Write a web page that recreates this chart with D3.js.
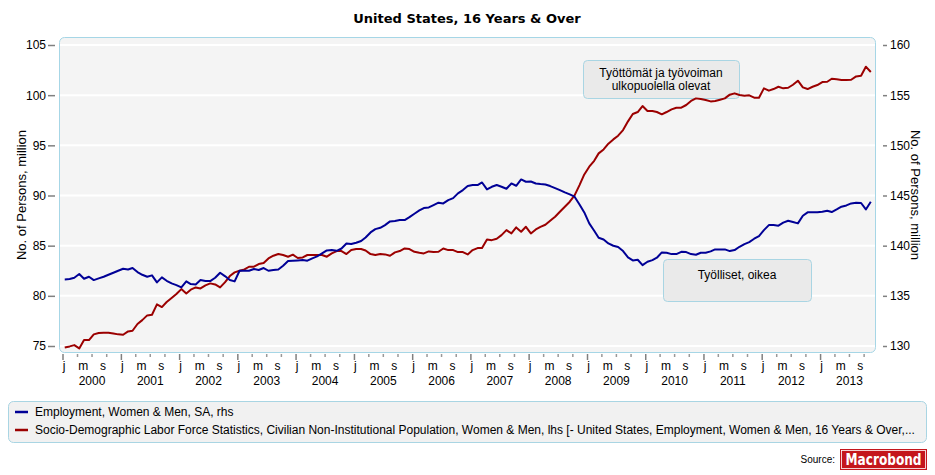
<!DOCTYPE html>
<html><head><meta charset="utf-8">
<script src="https://cdn.jsdelivr.net/npm/d3@7"></script>
<style>
body{margin:0;background:#fff}
svg{display:block}
text{font-family:"Liberation Sans",Arial,sans-serif;fill:#000}
</style>
</head><body>
<svg id="chart" width="935" height="475"></svg>
<script>
const chartTitle = "United States, 16 Years & Over";
const axisTitle = "No. of Persons, million";
const startYear = 2000;
const yearLabels = d3.range(2000, 2014);
const monthLabelText = ["j", "m", "s"]; // Jan, May, Sep
const leftTicks = [75, 80, 85, 90, 95, 100, 105];
const rightTicks = [130, 135, 140, 145, 150, 155, 160];
const seriesNames = [
  "Employment, Women & Men, SA, rhs",
  "Socio-Demographic Labor Force Statistics, Civilian Non-Institutional Population, Women & Men, lhs [- United States, Employment, Women & Men, 16 Years & Over,..."
];
const noteTop = ["Työttömät ja työvoiman", "ulkopuolella olevat"];
const noteBottom = ["Työlliset, oikea"];

// Employment, million (right axis), monthly from Jan 2000
const employment = [
136.64,136.67,136.80,137.17,136.70,136.90,136.57,136.74,136.90,137.10,137.30,137.50,
137.70,137.63,137.77,137.37,137.10,136.90,137.04,136.34,136.84,136.50,136.24,136.07,
135.84,136.44,136.17,136.14,136.57,136.47,136.47,136.80,137.30,136.97,136.57,136.44,
137.50,137.50,137.50,137.67,137.57,137.77,137.50,137.57,137.63,138.00,138.47,138.50,
138.53,138.57,138.50,138.73,138.93,139.23,139.53,139.56,139.49,139.72,140.22,140.16,
140.29,140.46,140.82,141.32,141.65,141.78,142.05,142.42,142.45,142.55,142.55,142.85,
143.18,143.51,143.75,143.81,144.04,144.28,144.21,144.54,144.74,145.21,145.54,145.94,
146.04,146.04,146.30,145.61,145.87,146.04,145.87,145.67,146.20,145.97,146.60,146.37,
146.40,146.20,146.14,146.10,145.94,145.74,145.54,145.31,145.11,144.88,144.11,143.31,
142.22,141.49,140.79,140.62,140.22,139.99,139.86,139.46,138.83,138.53,138.60,138.06,
138.40,138.56,138.80,139.33,139.29,139.16,139.16,139.39,139.36,139.16,139.09,139.29,
139.29,139.43,139.63,139.63,139.63,139.46,139.56,139.89,140.16,140.36,140.69,140.96,
141.55,142.05,142.05,141.99,142.29,142.48,142.35,142.22,142.98,143.32,143.32,143.32,
143.38,143.48,143.35,143.61,143.88,144.01,144.21,144.28,144.25,143.61,144.38];

// Population minus employment, million (left axis)
const notEmployed = [
74.86,74.96,75.09,74.76,75.59,75.59,76.16,76.29,76.32,76.32,76.25,76.16,
76.12,76.45,76.52,77.19,77.58,78.05,78.12,79.15,78.88,79.38,79.78,80.18,
80.67,80.24,80.61,80.84,80.74,81.04,81.24,81.14,80.84,81.34,81.97,82.34,
82.50,82.63,82.90,82.90,83.17,83.27,83.73,84.00,84.17,84.07,83.90,84.10,
83.77,83.83,84.07,84.07,84.07,84.07,83.90,84.23,84.46,84.46,84.16,84.56,
84.66,84.66,84.52,84.16,84.06,84.16,84.13,83.99,84.33,84.46,84.72,84.66,
84.39,84.29,84.23,84.43,84.36,84.39,84.72,84.56,84.56,84.36,84.36,84.13,
84.56,84.76,84.76,85.62,85.55,85.69,86.05,86.55,86.22,86.82,86.39,86.88,
86.22,86.62,86.88,87.08,87.48,87.88,88.38,88.88,89.38,90.01,91.04,92.10,
92.87,93.46,94.20,94.59,95.16,95.59,95.96,96.52,97.39,98.12,98.32,98.92,
98.42,98.42,98.32,98.09,98.32,98.58,98.75,98.75,99.02,99.42,99.68,99.61,
99.51,99.38,99.42,99.55,99.68,100.05,100.18,100.01,99.95,99.98,99.75,99.75,
100.68,100.45,100.61,100.84,100.68,100.74,101.04,101.44,100.78,100.61,100.84,101.01,
101.31,101.34,101.64,101.58,101.51,101.51,101.54,101.87,101.94,102.84,102.31];

const colors = {blue: "#000096", red: "#9b0000"};

const svg = d3.select("#chart");
const box = {x0: 59, x1: 876, y0: 37, y1: 353};

const dateOf = i => new Date(Date.UTC(startYear, i, 15));
const x = d3.scaleUtc()
  .domain([new Date(Date.UTC(2000,0,1)), new Date(Date.UTC(2014,0,1))])
  .range([62.5, 878.3]);
const yL = d3.scaleLinear().domain([75,105]).range([346,45]);
const yR = d3.scaleLinear().domain([130,160]).range([346,45]);

// title
svg.append("text").attr("x", 467).attr("y", 23).attr("text-anchor","middle")
  .style("font-family","'DejaVu Sans',Verdana,sans-serif").style("font-weight","bold")
  .style("font-size","13px").text(chartTitle);

// plot box
svg.append("rect").attr("x", box.x0+0.5).attr("y", box.y0+0.5)
  .attr("width", box.x1-box.x0-1).attr("height", box.y1-box.y0-1)
  .attr("rx", 5).attr("fill","#f4f4f4").attr("stroke","#a6d6e6").attr("stroke-width",1);

svg.append("defs").append("clipPath").attr("id","clip").append("rect")
  .attr("x", box.x0+1).attr("y", box.y0+1).attr("width", box.x1-box.x0-2).attr("height", box.y1-box.y0-2);

// grid
svg.append("g").selectAll("line").data(leftTicks).join("line")
  .attr("x1", box.x0+1).attr("x2", box.x1-1)
  .attr("y1", d=>yL(d)).attr("y2", d=>yL(d))
  .attr("stroke","#ffffff").attr("stroke-width",2);

// left axis
const gL = svg.append("g").attr("transform","translate(55,0)")
  .call(d3.axisLeft(yL).tickValues(leftTicks).tickSize(7).tickPadding(2));
gL.select(".domain").remove();
gL.selectAll("line").attr("stroke","#808080").attr("stroke-width",1.5);
gL.selectAll("text").style("font-size","12px").attr("fill","#000");

// right axis
const gR = svg.append("g").attr("transform","translate(883,0)")
  .call(d3.axisRight(yR).tickValues(rightTicks).tickSize(4).tickPadding(3));
gR.select(".domain").remove();
gR.selectAll("line").attr("stroke","#808080").attr("stroke-width",1.5);
gR.selectAll("text").style("font-size","12px").attr("fill","#000");

// axis titles
svg.append("text").attr("transform","translate(21,195) rotate(-90)")
  .attr("text-anchor","middle").attr("dominant-baseline","central")
  .style("font-size","13px").text(axisTitle);
svg.append("text").attr("transform","translate(915,195) rotate(90)")
  .attr("text-anchor","middle").attr("dominant-baseline","central")
  .style("font-size","13px").text(axisTitle);

// x axis
const allMonths = d3.utcMonth.range(new Date(Date.UTC(2000,0,1)), new Date(Date.UTC(2014,0,1)));
const quarterTicks = allMonths.filter(d => d.getUTCMonth()%3===0 && d.getUTCMonth()!==0 && x(d) < box.x1);
const yearTicks = allMonths.filter(d => d.getUTCMonth()===0);
const labelMonths = allMonths.filter(d => d.getUTCMonth()%4===0);

const gMinor = svg.append("g").attr("transform",`translate(0,${box.y1+1})`)
  .call(d3.axisBottom(x).tickValues(quarterTicks).tickSize(3).tickFormat(""));
gMinor.select(".domain").remove();
gMinor.selectAll("line").attr("stroke","#999").attr("stroke-width",1.5);

const gMajor = svg.append("g").attr("transform",`translate(0,${box.y1+1})`)
  .call(d3.axisBottom(x).tickValues(yearTicks).tickSize(6).tickFormat(""));
gMajor.select(".domain").remove();
gMajor.selectAll("line").attr("stroke","#808080").attr("stroke-width",1.5);

const gMon = svg.append("g").attr("transform","translate(0,361)")
  .call(d3.axisBottom(x).tickValues(labelMonths).tickSize(0).tickPadding(0)
    .tickFormat(d => monthLabelText[d.getUTCMonth()/4]));
gMon.select(".domain").remove();
gMon.selectAll("text").style("font-size","12px").attr("fill","#000").attr("dx","1");

const gYear = svg.append("g").attr("transform","translate(0,376)")
  .call(d3.axisBottom(x).tickValues(yearLabels.map(yv => new Date(Date.UTC(yv,6,1))))
    .tickSize(0).tickPadding(0).tickFormat(d => d.getUTCFullYear()));
gYear.select(".domain").remove();
gYear.selectAll("text").style("font-size","12px").attr("fill","#000");

// annotations (drawn beneath the lines)
function note(x0,y0,w,h,lines,baselines){
  svg.append("rect").attr("x",x0+0.5).attr("y",y0+0.5).attr("width",w).attr("height",h)
    .attr("rx",4).attr("fill","#eaeaea").attr("stroke","#a9d5e3");
  lines.forEach((t,i)=>svg.append("text").attr("x",x0+w/2).attr("y",baselines[i])
    .attr("text-anchor","middle").style("font-size","12px").text(t));
}
note(583,60,156,38,noteTop,[76.5,90]);
note(663,259,148,42,noteBottom,[278.5]);

// lines
const plot = svg.append("g").attr("clip-path","url(#clip)");
const lineR = d3.line().x((d,i)=>x(dateOf(i))).y(d=>yR(d));
const lineL = d3.line().x((d,i)=>x(dateOf(i))).y(d=>yL(d));
plot.append("path").datum(notEmployed).attr("d", lineL)
  .attr("fill","none").attr("stroke",colors.red).attr("stroke-width",2).attr("stroke-linejoin","round");
plot.append("path").datum(employment).attr("d", lineR)
  .attr("fill","none").attr("stroke",colors.blue).attr("stroke-width",2).attr("stroke-linejoin","round");

// legend
svg.append("rect").attr("x",8.5).attr("y",401.5).attr("width",918).attr("height",41)
  .attr("rx",5).attr("fill","#f1f1f1").attr("stroke","#a9d5e3");
const legY = [412, 430];
const legCol = [colors.blue, colors.red];
seriesNames.forEach((s,i)=>{
  svg.append("line").attr("x1",15).attr("x2",28).attr("y1",legY[i]).attr("y2",legY[i])
    .attr("stroke",legCol[i]).attr("stroke-width",2.5);
  svg.append("text").attr("x",35).attr("y",legY[i]).attr("dominant-baseline","central")
    .style("font-size","12px").text(s);
});

// source
svg.append("text").attr("x",835).attr("y",463).attr("text-anchor","end")
  .style("font-size","10px").text("Source:");
svg.append("rect").attr("x",840).attr("y",449).attr("width",87).attr("height",21).attr("fill","#c4161c");
svg.append("rect").attr("x",841.5).attr("y",450.5).attr("width",84).attr("height",18)
  .attr("fill","none").attr("stroke","#fff").attr("stroke-width",0.8);
svg.append("text").attr("x",883.5).attr("y",465).attr("text-anchor","middle")
  .attr("textLength",76).attr("lengthAdjust","spacingAndGlyphs")
  .style("font-family","'DejaVu Sans Condensed','DejaVu Sans',sans-serif").style("font-weight","bold")
  .style("font-size","15px").style("fill","#fff").text("Macrobond");
</script>
</body></html>
